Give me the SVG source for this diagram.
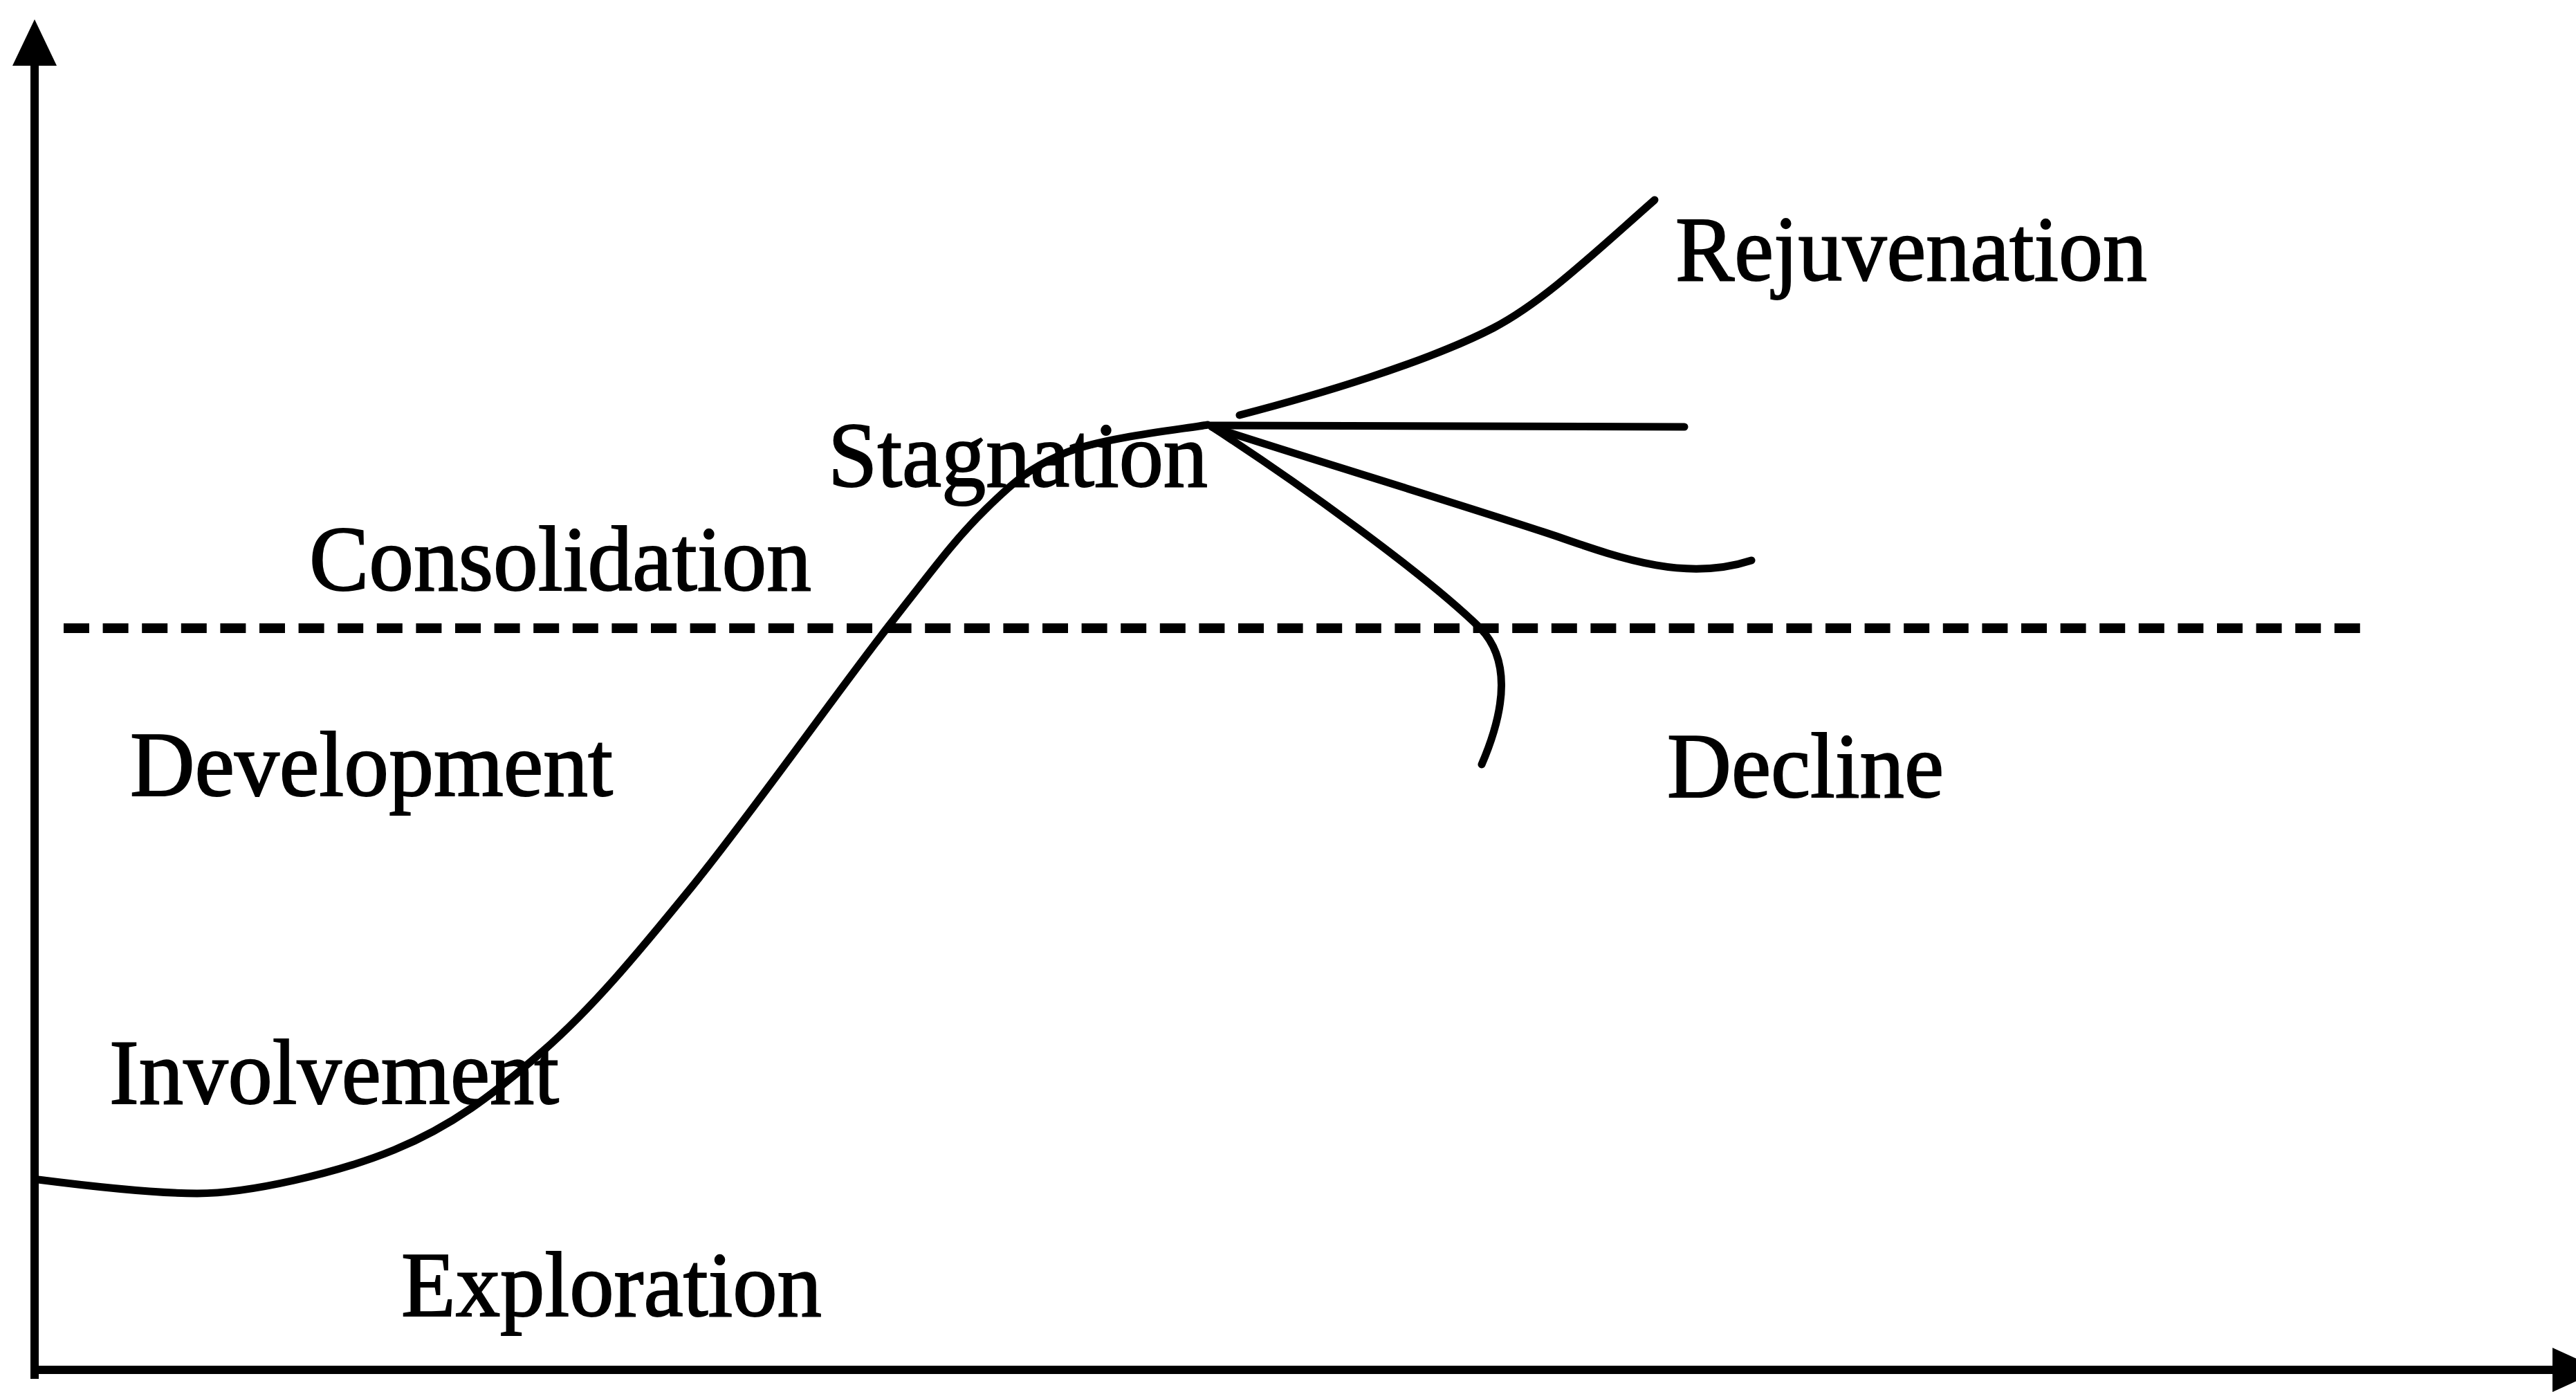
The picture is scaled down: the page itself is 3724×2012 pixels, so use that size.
<svg xmlns="http://www.w3.org/2000/svg" width="3724" height="2012" viewBox="0 0 3724 2012">
<style>
.lbl{font-family:"Liberation Serif","Times New Roman",serif;font-size:134px;fill:#000;stroke:#000;stroke-width:2}
.ln{fill:none;stroke:#000;stroke-width:11;stroke-linecap:round;stroke-linejoin:round}
.ax{fill:none;stroke:#000;stroke-width:12}
.dash{fill:none;stroke:#000;stroke-width:14;stroke-dasharray:37 19.6}
</style>
<rect width="3724" height="2012" fill="#fff"/>
<g id="axes">
<line class="ax" x1="50" y1="90" x2="50" y2="1993"/>
<polygon points="50,28 18,95 82,95" fill="#000"/>
<line class="ax" x1="44" y1="1980" x2="3695" y2="1980"/>
<polygon points="3690,1948 3690,2012 3760,1980" fill="#000"/>
</g>
<g id="connectors">
<line class="dash" x1="92" y1="908" x2="3413" y2="908"/>
<path id="main-curve" class="ln" d="M55,1705 C110,1712 220,1725 285,1725 C360,1725 487,1696 570,1662 C653,1628 712,1583 784,1520 C856,1457 917,1384 1000,1282 C1083,1180 1212,998 1283,907 C1354,816 1382,778 1425,736 C1468,694 1491,674 1544,653 C1598,632 1712,620 1746,614"/>
<path id="rejuvenation-branch" class="ln" d="M1792,600 C1900,572 2060,525 2159,474 C2230,437 2300,370 2392,289"/>
<path id="stable-branch" class="ln" d="M1750,615 L2435,617"/>
<path id="slow-decline-branch" class="ln" d="M1752,617 C1850,650 2100,725 2250,775 C2350,810 2440,840 2532,810"/>
<path id="decline-branch" class="ln" d="M1752,617 C1880,700 2060,830 2140,908 C2190,960 2170,1040 2142,1105"/>
</g>
<g id="rejuvenation"><text class="lbl" x="2422" y="405" textLength="682" lengthAdjust="spacingAndGlyphs">Rejuvenation</text></g>
<g id="stagnation"><text class="lbl" x="1197" y="703" textLength="549" lengthAdjust="spacingAndGlyphs">Stagnation</text></g>
<g id="consolidation"><text class="lbl" x="447" y="853" textLength="726" lengthAdjust="spacingAndGlyphs">Consolidation</text></g>
<g id="development"><text class="lbl" x="188" y="1150" textLength="698" lengthAdjust="spacingAndGlyphs">Development</text></g>
<g id="decline"><text class="lbl" x="2410" y="1152" textLength="400" lengthAdjust="spacingAndGlyphs">Decline</text></g>
<g id="involvement"><text class="lbl" x="158" y="1595" textLength="650" lengthAdjust="spacingAndGlyphs">Involvement</text></g>
<g id="exploration"><text class="lbl" x="580" y="1902" textLength="608" lengthAdjust="spacingAndGlyphs">Exploration</text></g>
</svg>
